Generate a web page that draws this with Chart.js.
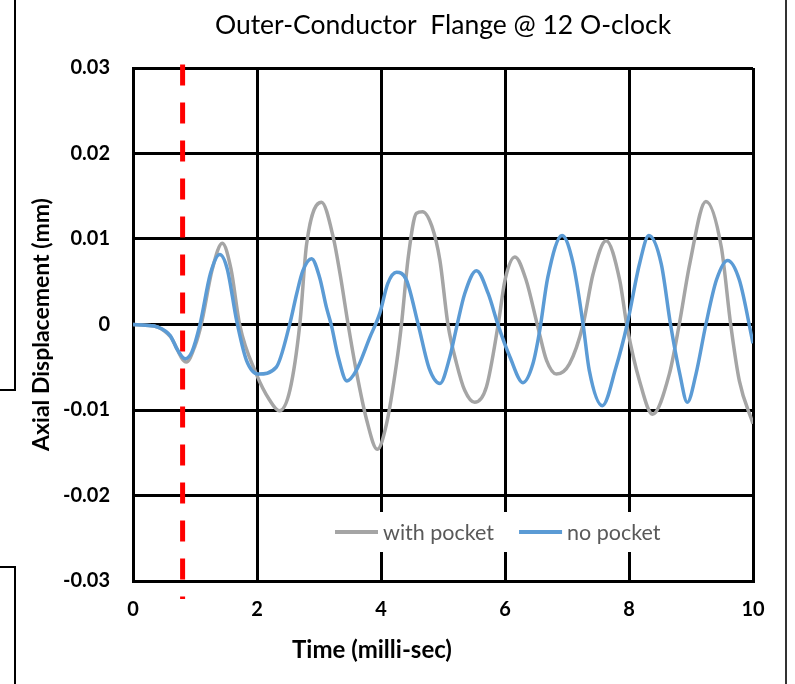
<!DOCTYPE html>
<html>
<head>
<meta charset="utf-8">
<script src="https://cdn.jsdelivr.net/npm/chart.js@4.4.1/dist/chart.umd.min.js"></script>
<style>
  body { margin: 0; background: #fff; }
  #wrap { position: relative; width: 795px; height: 684px; overflow: hidden; }
  #chart { position: absolute; left: 0; top: 0; }
  .edge { position: absolute; border: 0 solid #000; }
</style>
</head>
<body>
<div id="wrap">
  <canvas id="chart" width="795" height="684"></canvas>
  <div class="edge" style="left:0;top:0;width:14px;height:389px;border-right-width:2px;border-bottom-width:2px"></div>
  <div class="edge" style="left:0;top:566px;width:14px;height:130px;border-right-width:2px;border-top-width:2px"></div>
  <div class="edge" style="left:785px;top:0;width:0;height:684px;border-left-width:2px;border-color:#333"></div>
</div>
<script>
// time (ms) and axial displacement (mm)
const timeWith = [0, 0.2, 0.4, 0.6, 0.86, 1.0, 1.1, 1.28, 1.44, 1.58, 1.72, 1.99, 2.2, 2.36, 2.53, 2.69, 2.8,
  3.04, 3.23, 3.34, 3.47, 3.6, 3.77, 3.94, 4.09, 4.25, 4.33, 4.44, 4.57, 4.67, 4.82, 4.95, 5.08, 5.22, 5.35,
  5.51, 5.7, 5.89, 6.0, 6.16, 6.34, 6.53, 6.67, 6.83, 7.04, 7.26, 7.42, 7.63, 7.85, 7.97, 8.17, 8.38, 8.65,
  8.81, 8.98, 9.24, 9.49, 9.64, 9.78, 10];
const withPocket = [0, -0.0001, -0.0003, -0.0014, -0.0044, -0.0025, 0, 0.0065, 0.0095, 0.0065, 0, -0.0058,
  -0.0088, -0.0101, -0.0077, 0, 0.0094, 0.0143, 0.0102, 0.0059, 0, -0.0054, -0.0112, -0.0146, -0.0116,
  -0.0046, 0, 0.0079, 0.013, 0.0132, 0.0115, 0.0075, 0, -0.0046, -0.0077, -0.0091, -0.0073, 0, 0.0052,
  0.0079, 0.0052, -0.0003, -0.0042, -0.0058, -0.0046, 0, 0.0059, 0.0098, 0.0052, -0.0003, -0.0066, -0.0105,
  -0.0058, 0, 0.0071, 0.0144, 0.009, 0, -0.0066, -0.0116];

const timeNo = [0, 0.2, 0.4, 0.6, 0.72, 0.84, 0.95, 1.08, 1.25, 1.4, 1.52, 1.67, 1.83, 2.02, 2.31, 2.53, 2.64,
  2.74, 2.88, 3.01, 3.12, 3.2, 3.31, 3.45, 3.6, 3.82, 3.98, 4.11, 4.25, 4.41, 4.6, 4.78, 4.95, 5.11, 5.22,
  5.35, 5.54, 5.73, 5.89, 6.08, 6.29, 6.45, 6.56, 6.69, 6.92, 7.1, 7.26, 7.36, 7.57, 7.79, 7.97, 8.17, 8.32,
  8.52, 8.67, 8.82, 8.94, 9.08, 9.24, 9.41, 9.59, 9.78, 10];
const noPocket = [0, -0.0001, -0.0003, -0.0013, -0.003, -0.004, -0.0032, 0, 0.006, 0.0082, 0.0065, 0.0005,
  -0.0042, -0.0058, -0.005, 0.0001, 0.0036, 0.0063, 0.0077, 0.0055, 0.002, -0.0001, -0.0038, -0.0066,
  -0.0054, -0.0015, 0.0013, 0.0048, 0.0061, 0.0052, 0, -0.0052, -0.0069, -0.0038, -0.0003, 0.0036, 0.0063,
  0.0036, -0.0001, -0.0038, -0.0068, -0.0046, -0.0007, 0.0055, 0.0104, 0.0071, 0, -0.0054, -0.0095, -0.005,
  0, 0.0071, 0.0104, 0.0071, 0, -0.0058, -0.0091, -0.0058, 0, 0.0052, 0.0075, 0.0052, -0.0022];

// red dashed marker line
const markerTime = 0.8;
const markerTop = 0.0304;
const markerBottom = -0.0321;

const seriesNames = ["with pocket", "no pocket"];
const xTitle = "Time (milli-sec)";
const yTitle = "Axial Displacement (mm)";
const chartTitle = "Outer-Conductor  Flange @ 12 O-clock";

const FONT = "Lato, 'Liberation Sans', sans-serif";

function toPoints(xs, ys) {
  return xs.map((x, i) => ({ x: x, y: ys[i] }));
}

// legend inside the plot, x-axis title and chart title
const extras = {
  id: "extras",
  afterDatasetsDraw(chart) {
    const ctx = chart.ctx;
    ctx.save();
    ctx.fillStyle = "#fff";
    ctx.fillRect(322, 512, 352, 40);
    ctx.font = "21.5px " + FONT;
    ctx.textBaseline = "middle";
    ctx.textAlign = "left";
    let x = 335;
    const y = 532;
    chart.data.datasets.forEach((ds) => {
      if (!ds.label) return;
      ctx.strokeStyle = ds.borderColor;
      ctx.lineWidth = 4;
      ctx.beginPath();
      ctx.moveTo(x, y);
      ctx.lineTo(x + 43, y);
      ctx.stroke();
      ctx.fillStyle = "#595959";
      ctx.fillText(ds.label, x + 48, y + 1);
      x += 48 + ctx.measureText(ds.label).width + 25;
    });
    ctx.restore();
  },
  afterDraw(chart) {
    const ctx = chart.ctx;
    const area = chart.chartArea;
    ctx.save();
    ctx.fillStyle = "#000";
    ctx.textAlign = "center";
    ctx.textBaseline = "middle";
    ctx.font = "bold 24px " + FONT;
    ctx.fillText(xTitle, 372, 650);
    ctx.font = "26.5px " + FONT;
    ctx.fillText(chartTitle, (area.left + area.right) / 2, 25);
    ctx.restore();
  }
};

function init() {
  const ctx = document.getElementById("chart").getContext("2d");
  new Chart(ctx, {
    type: "line",
    data: {
      datasets: [
        {
          label: seriesNames[0],
          data: toPoints(timeWith, withPocket),
          borderColor: "#A5A5A5",
          borderWidth: 3.5,
          pointRadius: 0,
          cubicInterpolationMode: "monotone",
          order: 2
        },
        {
          label: seriesNames[1],
          data: toPoints(timeNo, noPocket),
          borderColor: "#5B9BD5",
          borderWidth: 3.5,
          pointRadius: 0,
          cubicInterpolationMode: "monotone",
          order: 1
        },
        {
          label: "",
          data: [{ x: markerTime, y: markerTop }, { x: markerTime, y: markerBottom }],
          borderColor: "#FF0000",
          borderWidth: 5,
          borderDash: [21, 17],
          pointRadius: 0,
          clip: false,
          order: 3
        }
      ]
    },
    options: {
      responsive: false,
      devicePixelRatio: 1,
      animation: false,
      layout: { padding: { left: 0, right: 42, top: 68, bottom: 0 } },
      scales: {
        x: {
          type: "linear",
          min: 0,
          max: 10,
          ticks: {
            stepSize: 2,
            padding: 17,
            color: "#000",
            font: { family: FONT, size: 20, weight: "bold" }
          },
          grid: { color: "#000", lineWidth: 3, drawTicks: false },
          border: { color: "#000", width: 3 },
          afterFit: (s) => { s.height = 103; }
        },
        y: {
          min: -0.03,
          max: 0.03,
          ticks: {
            stepSize: 0.01,
            padding: 23,
            color: "#000",
            font: { family: FONT, size: 20, weight: "bold" },
            callback: (v) => (Math.abs(v) < 1e-9 ? "0" : v.toFixed(2))
          },
          grid: { color: "#000", lineWidth: 3, drawTicks: false },
          border: { color: "#000", width: 3 },
          title: {
            display: true,
            text: yTitle,
            color: "#000",
            font: { family: FONT, size: 23, weight: "bold" },
            padding: { top: 28, bottom: 0 }
          },
          afterFit: (s) => { s.width = 133; }
        }
      },
      plugins: {
        legend: { display: false },
        tooltip: { enabled: false },
        title: { display: false }
      }
    },
    plugins: [extras]
  });
}

document.addEventListener("DOMContentLoaded", init);
</script>
</body>
</html>
